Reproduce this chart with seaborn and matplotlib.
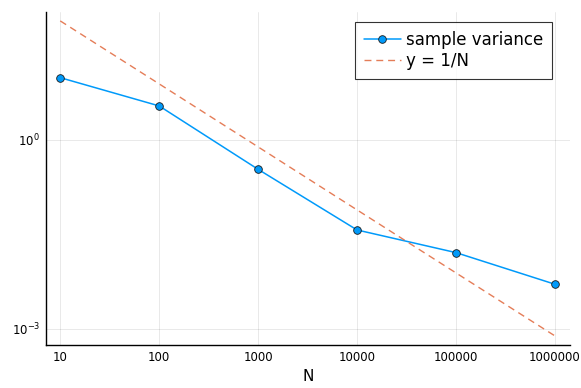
import numpy as np
import pandas as pd
import matplotlib
matplotlib.use("Agg")
import matplotlib.pyplot as plt
import seaborn as sns

# data
N = [10, 100, 1000, 10000, 100000, 1000000]
sample_var = [9.75, 3.47, 0.342, 0.0373, 0.0163, 0.00513]
ref_line = [77.6, 7.76, 0.776, 0.0776, 0.00776, 0.000776]
xtick_labels = ["10", "100", "1000", "10000", "100000", "1000000"]

df = pd.DataFrame({"N": N, "var": sample_var, "ref": ref_line})

sns.set_style("white")
plt.rcParams["font.family"] = ["DejaVu Sans"]

fig = plt.figure(figsize=(5.81, 3.88), dpi=100)
ax = fig.add_axes([45.7 / 581, 1 - 345 / 388, (570 - 45.7) / 581, (345 - 11.7) / 388])

blue = "#009AFA"
orange = "#E26F46"

sns.lineplot(data=df, x="N", y="var", ax=ax, color=blue, lw=1.1,
             marker="o", markersize=5.5, markerfacecolor=blue,
             markeredgecolor="#1a1a1a", markeredgewidth=0.6,
             label="sample variance")
sns.lineplot(data=df, x="N", y="ref", ax=ax, color=orange, lw=1.0,
             linestyle=(0, (5, 3.5)), alpha=0.9, label="y = 1/N")

ax.set_xscale("log")
ax.set_yscale("log")
ax.set_xlim(10 ** 0.853, 10 ** 6.152)
ax.set_ylim(10 ** -3.254, 10 ** 2.036)

ax.set_xticks(N)
ax.set_xticklabels(xtick_labels)
ax.xaxis.set_minor_locator(matplotlib.ticker.NullLocator())
ax.set_yticks([1e-3, 1e0])
ax.yaxis.set_minor_locator(matplotlib.ticker.NullLocator())

ax.tick_params(axis="both", direction="in", length=4, width=0.8,
               labelsize=8.5, color="black", labelcolor="black", pad=4)
ax.grid(True, color="black", alpha=0.1, lw=0.6)

for s in ["top", "right"]:
    ax.spines[s].set_visible(False)
for s in ["left", "bottom"]:
    ax.spines[s].set_color("black")
    ax.spines[s].set_linewidth(1.0)

ax.set_xlabel("N", fontsize=11, color="black")
ax.set_ylabel("")

leg = ax.legend(loc="upper right", bbox_to_anchor=(552 / 581, 1 - 22 / 388),
                bbox_transform=fig.transFigure, fontsize=12, frameon=True,
                fancybox=False, borderpad=0.55, handlelength=2.2,
                handletextpad=0.3, labelspacing=0.15, borderaxespad=0)
leg.get_frame().set_edgecolor("black")
leg.get_frame().set_linewidth(0.8)
for t in leg.get_texts():
    t.set_color("black")

fig.savefig("out.png", dpi=100)
